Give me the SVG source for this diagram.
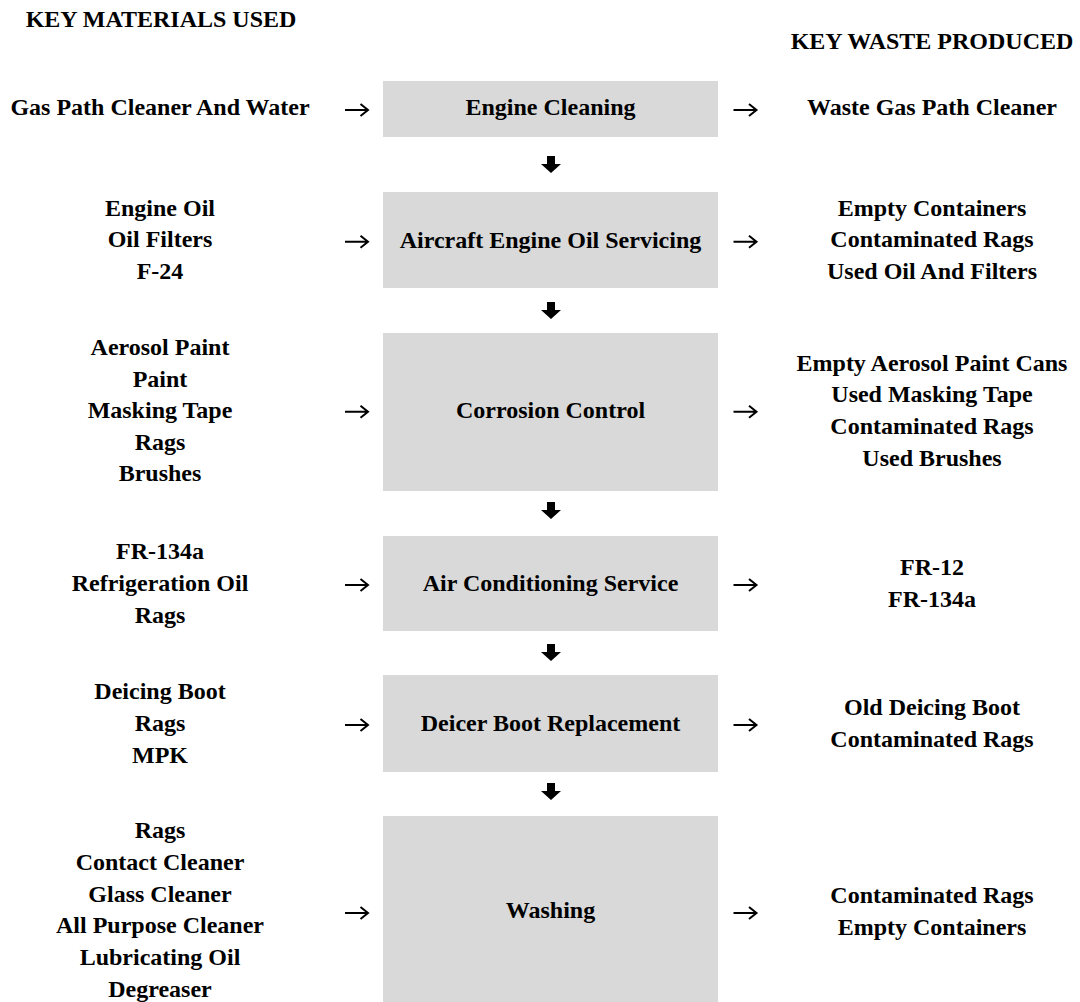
<svg xmlns="http://www.w3.org/2000/svg" width="1080" height="1002" viewBox="0 0 1080 1002">
<style>
text{font-family:"Liberation Serif","Times New Roman",serif;font-weight:bold;font-size:24px;fill:#000;text-anchor:middle}
.box{fill:#d9d9d9}
.ha{fill:none;stroke:#000;stroke-width:2}
</style>
<defs>
<polygon id="down" points="-4,0 4,0 4,8 10,8 0,17 -10,8 -4,8"/>
<path id="right" class="ha" d="M-11.5,0 H11 M4,-6 L11.5,0 L4,6"/>
</defs>
<rect width="1080" height="1002" fill="#fff"/>
<g id="headers">
<text x="161" y="27">KEY MATERIALS USED</text>
<text x="932" y="49">KEY WASTE PRODUCED</text>
</g>
<g id="n1">
<rect class="box" x="383" y="81" width="335" height="56"/>
<text x="550.5" y="115">Engine Cleaning</text>
</g>
<g id="n1in"><text x="160" y="115">Gas Path Cleaner And Water</text></g>
<g id="n1out"><text x="932" y="115">Waste Gas Path Cleaner</text></g>
<g id="n2">
<rect class="box" x="383" y="192" width="335" height="96"/>
<text x="550.5" y="248">Aircraft Engine Oil Servicing</text>
</g>
<g id="n2in"><text x="160" y="215.5">Engine Oil</text><text x="160" y="247.2">Oil Filters</text><text x="160" y="278.9">F-24</text></g>
<g id="n2out"><text x="932" y="215.5">Empty Containers</text><text x="932" y="247.2">Contaminated Rags</text><text x="932" y="278.9">Used Oil And Filters</text></g>
<g id="n3">
<rect class="box" x="383" y="333" width="335" height="158"/>
<text x="550.5" y="418">Corrosion Control</text>
</g>
<g id="n3in"><text x="160" y="355">Aerosol Paint</text><text x="160" y="386.6">Paint</text><text x="160" y="418.2">Masking Tape</text><text x="160" y="449.8">Rags</text><text x="160" y="481.4">Brushes</text></g>
<g id="n3out"><text x="932" y="370.8">Empty Aerosol Paint Cans</text><text x="932" y="402.4">Used Masking Tape</text><text x="932" y="434">Contaminated Rags</text><text x="932" y="465.6">Used Brushes</text></g>
<g id="n4">
<rect class="box" x="383" y="536" width="335" height="95"/>
<text x="550.5" y="591">Air Conditioning Service</text>
</g>
<g id="n4in"><text x="160" y="559.3">FR-134a</text><text x="160" y="591">Refrigeration Oil</text><text x="160" y="622.7">Rags</text></g>
<g id="n4out"><text x="932" y="575.2">FR-12</text><text x="932" y="606.8">FR-134a</text></g>
<g id="n5">
<rect class="box" x="383" y="675" width="335" height="97"/>
<text x="550.5" y="731">Deicer Boot Replacement</text>
</g>
<g id="n5in"><text x="160" y="699.3">Deicing Boot</text><text x="160" y="731">Rags</text><text x="160" y="762.6">MPK</text></g>
<g id="n5out"><text x="932" y="715.2">Old Deicing Boot</text><text x="932" y="746.8">Contaminated Rags</text></g>
<g id="n6">
<rect class="box" x="383" y="816" width="335" height="194"/>
<text x="550.5" y="918">Washing</text>
</g>
<g id="n6in"><text x="160" y="838">Rags</text><text x="160" y="869.8">Contact Cleaner</text><text x="160" y="901.6">Glass Cleaner</text><text x="160" y="933.4">All Purpose Cleaner</text><text x="160" y="965.2">Lubricating Oil</text><text x="160" y="997">Degreaser</text></g>
<g id="n6out"><text x="932" y="903.2">Contaminated Rags</text><text x="932" y="934.8">Empty Containers</text></g>
<g id="connectors">
<use href="#right" x="356.5" y="110"/><use href="#right" x="745" y="110"/>
<use href="#right" x="356.5" y="241.7"/><use href="#right" x="745" y="241.7"/>
<use href="#right" x="356.5" y="411.7"/><use href="#right" x="745" y="411.7"/>
<use href="#right" x="356.5" y="585"/><use href="#right" x="745" y="585"/>
<use href="#right" x="356.5" y="725"/><use href="#right" x="745" y="725"/>
<use href="#right" x="356.5" y="913"/><use href="#right" x="745" y="913"/>
<use href="#down" x="551" y="156"/>
<use href="#down" x="551" y="302"/>
<use href="#down" x="551" y="502"/>
<use href="#down" x="551" y="644"/>
<use href="#down" x="551" y="783"/>
</g>
</svg>
